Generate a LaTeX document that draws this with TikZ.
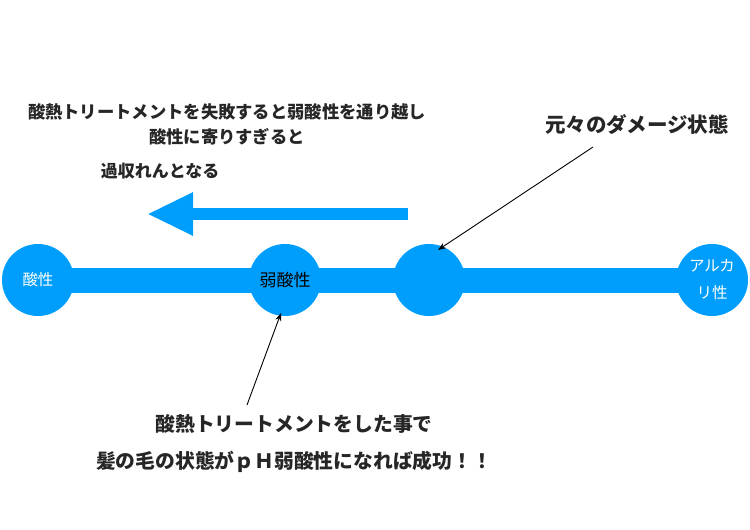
\documentclass[tikz,border=0pt]{standalone}
\usepackage{fontspec}
\setmainfont{Noto Sans CJK JP}
\usetikzlibrary{arrows.meta}
\definecolor{phblue}{RGB}{0,158,252}

\begin{document}
\begin{tikzpicture}[x=1pt, y=-1pt,
    main/.style = {circle, fill=phblue, minimum size=72pt, inner sep=0pt, text=white, font=\fontsize{15.5}{27}\selectfont, align=center},
    note/.style = {text=black!85, align=center, inner sep=0pt},
    pointer/.style = {-{Stealth[length=8pt, width=6pt]}, line width=0.9pt, black}]
      \useasboundingbox (0,0) rectangle (750,530);
      \coordinate (left) at (38,280);
      \coordinate (right) at (712,280);
      \draw [phblue, line width=25pt] (left) -- (right);
      \node [main] (acid) at (left) {酸性};
      \node [main, text=black, font=\fontsize{17}{20}\selectfont] (weak) at (285,280) {弱酸性};
      \node [main] (damage) at (429,280) {};
      \node [main] (alkali) at (right) {アルカ\\リ性};

      % shift towards the acid side
      \coordinate (s) at (408,214);
      \coordinate (t) at (147,214);
      \draw [phblue, line width=12pt, -{Triangle[width=40pt, length=46pt]}] (s) -- (t);

      \node [note, font=\bfseries\fontsize{17.3}{25}\selectfont] (fail) at (227,124.5) {酸熱トリートメントを失敗すると弱酸性を通り越し\\酸性に寄りすぎると};
      \node [note, font=\bfseries\fontsize{17}{20}\selectfont] (over) at (160,171) {過収れんとなる};
      \node [note, font=\bfseries\fontsize{20.5}{24}\selectfont] (orig) at (637,125) {元々のダメージ状態};
      \node [note, font=\bfseries\fontsize{19.8}{37}\selectfont] (goal) at (294,443.5) {酸熱トリートメントをした事で\\髪の毛の状態がｐＨ弱酸性になれば成功！！};

      \coordinate (o1) at (593,147);
      \coordinate (o2) at (438,250);
      \draw [pointer] (o1) -- (o2);
      \coordinate (g1) at (247,405);
      \coordinate (g2) at (281,313);
      \draw [pointer] (g1) -- (g2);
\end{tikzpicture}
\end{document}
